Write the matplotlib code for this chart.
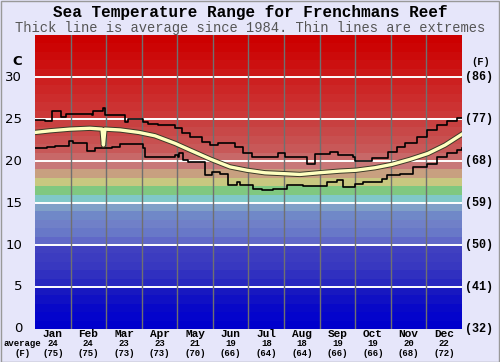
import matplotlib.pyplot as plt
import matplotlib.patheffects as pe
import numpy as np

# %%
# Data (day of year, deg C).
# --------------------------------------------------------

months = ["Jan", "Feb", "Mar", "Apr", "May", "Jun",
          "Jul", "Aug", "Sep", "Oct", "Nov", "Dec"]
avg_c = [24, 24, 23, 23, 21, 19, 18, 18, 19, 19, 20, 22]
avg_f = [75, 75, 73, 73, 70, 66, 64, 64, 66, 66, 68, 72]

avg_day = [0, 12.8, 30, 47, 57.3, 58.5, 59.8, 72.7, 88.9, 102.6, 119.7,
           132.5, 150.4, 166.7, 181.2, 196.6, 212, 226.5, 242.8, 260.7,
           274.4, 290.6, 305.2, 320.6, 335.9, 350.5, 365]
avg_temp = [23.4, 23.6, 23.8, 23.9, 23.8, 21.9, 23.8, 23.7, 23.4, 23.0, 22.1,
            21.3, 20.2, 19.3, 18.9, 18.6, 18.5, 18.4, 18.6, 18.8,
            18.9, 19.2, 19.6, 20.2, 20.9, 21.9, 23.2]

max_day = [0, 8.5, 14.3, 22, 26.5, 48.5, 49.6, 57, 58.1, 59.8, 60.7, 76.9,
           79.5, 92.3, 96.6, 105.1, 119.7, 125.4, 132.5, 142.5, 149.6, 156.4,
           171, 177.8, 185.2, 207.7, 213.7, 232.2, 239.4, 252.2, 259, 271.8,
           273.5, 288.1, 301.7, 309.4, 316.3, 326.5, 335.1, 343.6, 352.2,
           360.7, 365]
max_temp = [24.9, 24.8, 26.0, 25.3, 25.6, 25.5, 25.9, 25.9, 26.3, 25.5, 25.5,
            24.7, 25.0, 24.7, 24.4, 24.3, 23.9, 23.3, 22.9, 22.3, 21.9, 22.1,
            21.7, 21.0, 20.5, 20.9, 20.5, 19.7, 20.8, 21.1, 20.7, 20.5,
            20.0, 20.3, 21.1, 21.7, 22.2, 22.9, 23.7, 24.3, 24.8,
            25.1, 25.1]

min_day = [0, 10, 17.1, 29.1, 32.5, 44.2, 51.3, 65.6, 72.7, 92.3, 94, 112.6,
           119.7, 122.2, 123.1, 126.5, 130.8, 145.3, 151, 158.1, 165, 172.4,
           175.2, 186.4, 193.8, 203.4, 215.2, 229.1, 249.6, 258.1, 263.3,
           273.5, 280.4, 296.6, 300.9, 312, 323.1, 335.1, 343.6, 352.2,
           360.7, 365]
min_temp = [21.5, 21.7, 21.8, 22.4, 22.1, 21.2, 21.5, 21.7, 22.0, 21.6, 20.5,
            20.5, 20.7, 20.5, 20.9, 20.1, 19.9, 18.3, 18.7, 18.5, 17.1, 17.5,
            17.1, 16.7, 16.5, 16.7, 17.1, 17.0, 17.5, 17.7, 16.9,
            17.3, 17.5, 17.9, 18.3, 18.5, 19.3, 19.7, 20.5, 20.9,
            21.3, 21.5]

# Background band colours, one per degree from 0 to 35.
band_colors = [
    "#0000cc", "#0404cc", "#0808c8", "#1010c4", "#1818c0",
    "#2828c0", "#3030c0", "#3838c0", "#3c3cc0", "#4040c0",
    "#6068c8", "#6878c8", "#7080c8", "#7088c8", "#80a0c8",
    "#80c8c8", "#80c880", "#c8c880", "#c8a080", "#c87878",
    "#c86868", "#c85858", "#c85050", "#c84848", "#c84040",
    "#cc3838", "#cc3232", "#cc2c2c", "#cc2626", "#cc2020",
    "#cc1818", "#cc1010", "#cc0a0a", "#cc0404", "#cc0000",
]

# %%
# Figure.
# -------

mono = "Liberation Mono"
bg = "#e6e6fa"

fig = plt.figure(figsize=(5.0, 3.62), dpi=100, facecolor=bg)
ax = fig.add_axes([0.07, 0.0912, 0.854, 0.812])
ax.set_facecolor(bg)

for i, col in enumerate(band_colors):
    ax.axhspan(i, i + 1, color=col, lw=0, zorder=0)

for t in range(5, 35, 5):
    ax.axhline(t, color="white", lw=1.4, zorder=1)

month_edges = np.linspace(0, 365, 13)
for d in month_edges[1:-1]:
    ax.axvline(d, color="#707070", lw=1.0, zorder=1)

ax.step(max_day, max_temp, where="post", color="black", lw=1.2, zorder=3)
ax.step(min_day, min_temp, where="post", color="black", lw=1.2, zorder=3)
ax.plot(avg_day, avg_temp, color="#ffffc0", lw=2.4, zorder=4,
        path_effects=[pe.Stroke(linewidth=3.8, foreground="#3a3a28"),
                      pe.Normal()])

ax.set_xlim(0, 365)
ax.set_ylim(0, 35)
ax.set_xticks([])
ax.set_yticks([])
for s in ax.spines.values():
    s.set_visible(False)

# Left Celsius labels.
for t in range(0, 35, 5):
    ax.text(-11, t, str(t), ha="right", va="center", fontsize=9.5,
            family="DejaVu Sans")
ax.text(-15, 31.8, "C", ha="center", va="center", fontsize=9.5,
        family="DejaVu Sans", weight="bold")

# Right Fahrenheit labels.
for t in range(0, 35, 5):
    ax.text(367.5, t, f"({round(t * 9 / 5 + 32)})", ha="left", va="center",
            fontsize=8.5, family=mono, weight="bold")
ax.text(381, 31.8, "(F)", ha="center", va="center", fontsize=7.5,
        family=mono, weight="bold")

# Month labels with averages.
centers = (month_edges[:-1] + month_edges[1:]) / 2
for c, m, ac, af in zip(centers, months, avg_c, avg_f):
    ax.text(c, -0.6, m, ha="center", va="center", fontsize=8,
            family=mono, weight="bold")
    ax.text(c, -1.75, str(ac), ha="center", va="center", fontsize=6.5,
            family=mono, weight="bold")
    ax.text(c, -2.9, f"({af})", ha="center", va="center", fontsize=6.5,
            family=mono, weight="bold")
ax.text(-10.7, -1.75, "average", ha="center", va="center", fontsize=6.5,
        family=mono, weight="bold", clip_on=False)
ax.text(-10.7, -2.9, "(F)", ha="center", va="center", fontsize=6.5,
        family=mono, weight="bold", clip_on=False)

# Titles.
fig.text(0.5, 0.965, "Sea Temperature Range for Frenchmans Reef",
         ha="center", va="center", fontsize=11.5, family=mono, weight="bold")
fig.text(0.5, 0.924,
         "Thick line is average since 1984. Thin lines are extremes",
         ha="center", va="center", fontsize=9.9, family=mono, color="#555555")

# Thin grey frame around the figure.
fig.patches.append(plt.Rectangle((0.001, 0.001), 0.997, 0.997,
                                 transform=fig.transFigure, fill=False,
                                 edgecolor="#999999", lw=1.0))

fig.savefig("out.png", dpi=100, facecolor=bg)
